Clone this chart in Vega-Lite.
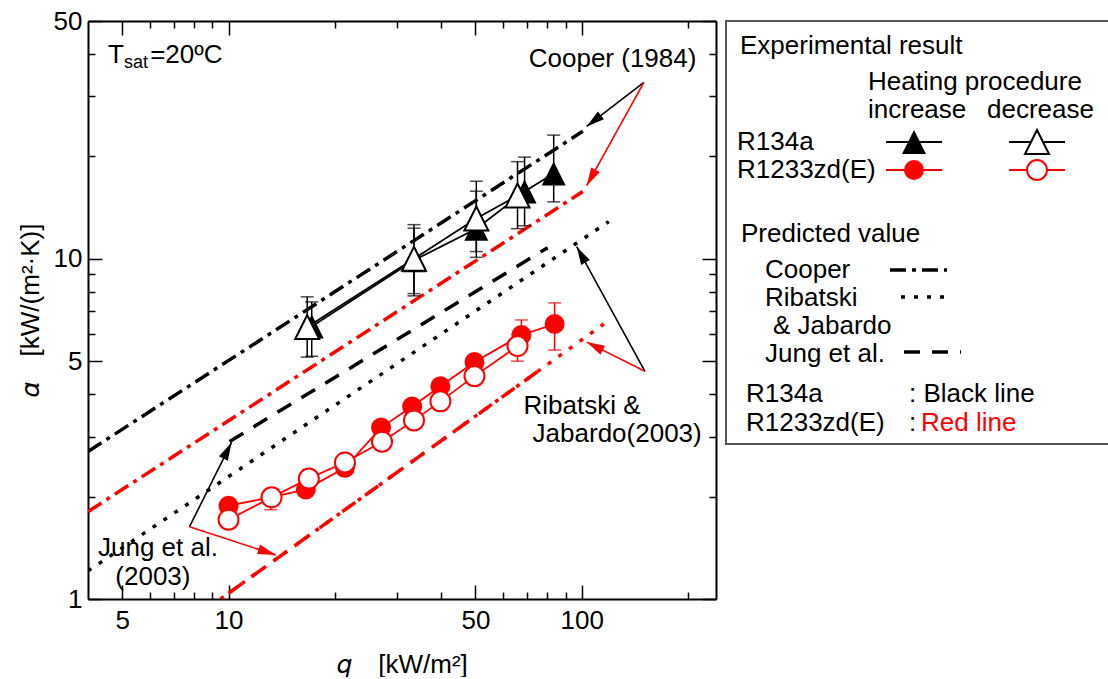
{
  "$schema": "https://vega.github.io/schema/vega-lite/v6.json",
  "background": "white",
  "padding": {"left": 17, "top": 8, "right": 0, "bottom": 0},
  "spacing": 10,
  "bounds": "flush",
  "config": {
    "font": "Liberation Sans",
    "view": {"stroke": null},
    "axis": {"labelFont": "Liberation Sans", "labelFontSize": 26, "labelColor": "black", "titleFont": "Liberation Sans", "titleFontSize": 26, "titleFontWeight": "normal", "titleColor": "black", "tickColor": "black", "tickWidth": 1.5, "domainColor": "black", "domainWidth": 2, "grid": false, "labelOverlap": false, "labelFlush": false},
    "text": {"font": "Liberation Sans", "fontSize": 26, "align": "left", "baseline": "middle"}
  },
  "datasets": {
    "exp": [
      {"fluid": "R134a", "proc": "increase", "q": 17.2, "a": 6.32, "lo": 5.17, "hi": 7.47},
      {"fluid": "R134a", "proc": "increase", "q": 33.5, "a": 9.9, "lo": 7.9, "hi": 12.3},
      {"fluid": "R134a", "proc": "increase", "q": 50.3, "a": 12.26, "lo": 10.1, "hi": 16.9},
      {"fluid": "R134a", "proc": "increase", "q": 68.9, "a": 15.76, "lo": 12.5, "hi": 19.9},
      {"fluid": "R134a", "proc": "increase", "q": 83.3, "a": 17.8, "lo": 14.7, "hi": 23.1},
      {"fluid": "R134a", "proc": "decrease", "q": 16.7, "a": 6.3, "lo": 5.14, "hi": 7.73},
      {"fluid": "R134a", "proc": "decrease", "q": 33.5, "a": 10.0, "lo": 7.78, "hi": 12.6},
      {"fluid": "R134a", "proc": "decrease", "q": 50.3, "a": 13.13, "lo": 10.5, "hi": 15.8},
      {"fluid": "R134a", "proc": "decrease", "q": 65.8, "a": 15.35, "lo": 12.26, "hi": 19.3},
      {"fluid": "R1233zd(E)", "proc": "increase", "q": 10.0, "a": 1.88, "lo": 1.82, "hi": 1.95},
      {"fluid": "R1233zd(E)", "proc": "increase", "q": 13.16, "a": 1.99, "lo": 1.83, "hi": 2.05},
      {"fluid": "R1233zd(E)", "proc": "increase", "q": 16.55, "a": 2.1, "lo": 2.03, "hi": 2.17},
      {"fluid": "R1233zd(E)", "proc": "increase", "q": 21.36, "a": 2.43, "lo": 2.35, "hi": 2.52},
      {"fluid": "R1233zd(E)", "proc": "increase", "q": 27.03, "a": 3.19, "lo": 3.08, "hi": 3.3},
      {"fluid": "R1233zd(E)", "proc": "increase", "q": 33.1, "a": 3.68, "lo": 3.55, "hi": 3.8},
      {"fluid": "R1233zd(E)", "proc": "increase", "q": 39.8, "a": 4.22, "lo": 4.08, "hi": 4.36},
      {"fluid": "R1233zd(E)", "proc": "increase", "q": 49.7, "a": 4.97, "lo": 4.8, "hi": 5.15},
      {"fluid": "R1233zd(E)", "proc": "increase", "q": 67.5, "a": 5.97, "lo": 5.5, "hi": 6.61},
      {"fluid": "R1233zd(E)", "proc": "increase", "q": 83.8, "a": 6.43, "lo": 5.39, "hi": 7.42},
      {"fluid": "R1233zd(E)", "proc": "decrease", "q": 10.0, "a": 1.71, "lo": 1.66, "hi": 1.77},
      {"fluid": "R1233zd(E)", "proc": "decrease", "q": 13.24, "a": 1.99, "lo": 1.93, "hi": 2.05},
      {"fluid": "R1233zd(E)", "proc": "decrease", "q": 16.88, "a": 2.26, "lo": 2.18, "hi": 2.4},
      {"fluid": "R1233zd(E)", "proc": "decrease", "q": 21.36, "a": 2.52, "lo": 2.44, "hi": 2.6},
      {"fluid": "R1233zd(E)", "proc": "decrease", "q": 27.2, "a": 2.9, "lo": 2.8, "hi": 3.0},
      {"fluid": "R1233zd(E)", "proc": "decrease", "q": 33.5, "a": 3.35, "lo": 3.22, "hi": 3.48},
      {"fluid": "R1233zd(E)", "proc": "decrease", "q": 39.8, "a": 3.81, "lo": 3.68, "hi": 3.94},
      {"fluid": "R1233zd(E)", "proc": "decrease", "q": 49.7, "a": 4.52, "lo": 4.37, "hi": 4.68},
      {"fluid": "R1233zd(E)", "proc": "decrease", "q": 65.8, "a": 5.54, "lo": 5.0, "hi": 6.0}
    ],
    "pred": [
      {"model": "Cooper", "fluid": "R134a", "q": 4.0, "a": 2.714},
      {"model": "Cooper", "fluid": "R134a", "q": 100.7, "a": 23.7},
      {"model": "Cooper", "fluid": "R1233zd(E)", "q": 4.0, "a": 1.806},
      {"model": "Cooper", "fluid": "R1233zd(E)", "q": 100.7, "a": 15.76},
      {"model": "Jung", "fluid": "R134a", "q": 10.07, "a": 2.904},
      {"model": "Jung", "fluid": "R134a", "q": 80.1, "a": 10.78},
      {"model": "Ribatski", "fluid": "R134a", "q": 4.0, "a": 1.21},
      {"model": "Ribatski", "fluid": "R134a", "q": 119.3, "a": 12.86},
      {"model": "Jung", "fluid": "R1233zd(E)", "q": 10.0, "a": 1.04},
      {"model": "Jung", "fluid": "R1233zd(E)", "q": 80.0, "a": 4.89},
      {"model": "Ribatski", "fluid": "R1233zd(E)", "q": 9.49, "a": 1.0},
      {"model": "Ribatski", "fluid": "R1233zd(E)", "q": 115.5, "a": 6.43}
    ],
    "arrows": [
      {"id": "cooper_black", "fluid": "R134a", "q": 150, "a": 33.0, "q2": 103.3, "a2": 24.5},
      {"id": "cooper_red", "fluid": "R1233zd(E)", "q": 150, "a": 33.0, "q2": 103.3, "a2": 16.4},
      {"id": "ribatski_black", "fluid": "R134a", "q": 151, "a": 4.67, "q2": 96.8, "a2": 10.85},
      {"id": "ribatski_red", "fluid": "R1233zd(E)", "q": 151, "a": 4.67, "q2": 103.3, "a2": 5.69},
      {"id": "jung_black", "fluid": "R134a", "q": 7.75, "a": 1.63, "q2": 10.2, "a2": 2.885},
      {"id": "jung_red", "fluid": "R1233zd(E)", "q": 7.75, "a": 1.63, "q2": 13.6, "a2": 1.348}
    ],
    "notes": [
      {"kind": "main", "label": "Cooper (1984)", "q": 70.8, "a": 38.6},
      {"kind": "main", "label": "Ribatski &", "q": 68.4, "a": 3.686},
      {"kind": "main", "label": "Jabardo(2003)", "q": 72.6, "a": 3.047},
      {"kind": "main", "label": "Jung et al.", "q": 4.27, "a": 1.414},
      {"kind": "main", "label": "(2003)", "q": 4.78, "a": 1.161},
      {"kind": "main", "label": "T", "q": 4.56, "a": 39.7},
      {"kind": "sub", "label": "sat", "q": 5.06, "a": 37.6},
      {"kind": "main", "label": "=20ºC", "q": 6.0, "a": 39.7}
    ],
    "legendText": [
      {"label": "Experimental result", "lx": 14, "ly": 25, "fluid": "none"},
      {"label": "Heating procedure", "lx": 142, "ly": 61, "fluid": "none"},
      {"label": "increase", "lx": 142, "ly": 89, "fluid": "none"},
      {"label": "decrease", "lx": 261, "ly": 89, "fluid": "none"},
      {"label": "R134a", "lx": 11, "ly": 121, "fluid": "none"},
      {"label": "R1233zd(E)", "lx": 11, "ly": 149, "fluid": "none"},
      {"label": "Predicted value", "lx": 15, "ly": 213, "fluid": "none"},
      {"label": "Cooper", "lx": 39, "ly": 249, "fluid": "none"},
      {"label": "Ribatski", "lx": 39, "ly": 277, "fluid": "none"},
      {"label": "& Jabardo", "lx": 47, "ly": 305, "fluid": "none"},
      {"label": "Jung et al.", "lx": 39, "ly": 333, "fluid": "none"},
      {"label": "R134a", "lx": 20, "ly": 373, "fluid": "none"},
      {"label": ": Black line", "lx": 183, "ly": 373, "fluid": "none"},
      {"label": "R1233zd(E)", "lx": 20, "ly": 402, "fluid": "none"},
      {"label": ":", "lx": 183, "ly": 402, "fluid": "none"},
      {"label": "Red line", "lx": 195, "ly": 402, "fluid": "R1233zd(E)"}
    ],
    "legendSym": [
      {"fluid": "R134a", "proc": "increase", "lx": 188, "lx1": 160, "lx2": 216, "ly": 121},
      {"fluid": "R134a", "proc": "decrease", "lx": 311, "lx1": 283, "lx2": 339, "ly": 121},
      {"fluid": "R1233zd(E)", "proc": "increase", "lx": 188, "lx1": 160, "lx2": 216, "ly": 149},
      {"fluid": "R1233zd(E)", "proc": "decrease", "lx": 311, "lx1": 283, "lx2": 339, "ly": 149}
    ],
    "legendPred": [
      {"model": "Cooper", "lx1": 164, "lx2": 221, "ly": 249},
      {"model": "Ribatski", "lx1": 175, "lx2": 221, "ly": 276},
      {"model": "Jung", "lx1": 178, "lx2": 235, "ly": 331}
    ]
  },
  "hconcat": [
    {
      "width": 628,
      "height": 578,
      "view": {"stroke": null},
      "resolve": {"axis": {"x": "independent", "y": "independent"}},
      "layer": [
        {
          "data": {"name": "pred"},
          "mark": {"type": "point", "opacity": 0},
          "encoding": {
            "x": {"field": "q", "type": "quantitative", "scale": {"type": "log", "domain": [4, 240], "nice": false},
              "axis": {"orient": "bottom", "values": [5, 10, 50, 100], "format": "d", "tickSize": -14, "labelPadding": 22, "domain": true, "title": "𝑞\u2002\u2002[kW/m²]", "titlePadding": 18}},
            "y": {"field": "a", "type": "quantitative", "scale": {"type": "log", "domain": [1, 50], "nice": false},
              "axis": {"orient": "left", "values": [1, 5, 10, 50], "format": "d", "tickSize": -14, "labelPadding": 20, "domain": true, "title": "𝛼\u2002\u2002[kW/(m²·K)]", "titlePadding": 10}}
          }
        },
        {
          "data": {"name": "pred"},
          "mark": {"type": "point", "opacity": 0},
          "encoding": {
            "x": {"field": "q", "type": "quantitative", "scale": {"type": "log", "domain": [4, 240], "nice": false},
              "axis": {"orient": "bottom", "values": [6, 7, 8, 9, 20, 30, 40, 60, 70, 80, 90, 200], "tickSize": -7, "labels": false, "domain": false, "title": null}},
            "y": {"field": "a", "type": "quantitative", "scale": {"type": "log", "domain": [1, 50], "nice": false},
              "axis": {"orient": "left", "values": [2, 3, 4, 6, 7, 8, 9, 20, 30, 40], "tickSize": -7, "labels": false, "domain": false, "title": null}}
          }
        },
        {
          "data": {"name": "pred"},
          "mark": {"type": "point", "opacity": 0},
          "encoding": {
            "x": {"field": "q", "type": "quantitative", "scale": {"type": "log", "domain": [4, 240], "nice": false},
              "axis": {"orient": "top", "values": [5, 10, 50, 100], "tickSize": -14, "labels": false, "domain": true, "title": null}},
            "y": {"field": "a", "type": "quantitative", "scale": {"type": "log", "domain": [1, 50], "nice": false},
              "axis": {"orient": "right", "values": [1, 5, 10, 50], "tickSize": -14, "labels": false, "domain": true, "title": null}}
          }
        },
        {
          "data": {"name": "pred"},
          "mark": {"type": "point", "opacity": 0},
          "encoding": {
            "x": {"field": "q", "type": "quantitative", "scale": {"type": "log", "domain": [4, 240], "nice": false},
              "axis": {"orient": "top", "values": [6, 7, 8, 9, 20, 30, 40, 60, 70, 80, 90, 200], "tickSize": -7, "labels": false, "domain": false, "title": null}},
            "y": {"field": "a", "type": "quantitative", "scale": {"type": "log", "domain": [1, 50], "nice": false},
              "axis": {"orient": "right", "values": [2, 3, 4, 6, 7, 8, 9, 20, 30, 40], "tickSize": -7, "labels": false, "domain": false, "title": null}}
          }
        },
        {
          "encoding": {
            "x": {"field": "q", "type": "quantitative", "scale": {"type": "log", "domain": [4, 240], "nice": false}, "axis": null},
            "y": {"field": "a", "type": "quantitative", "scale": {"type": "log", "domain": [1, 50], "nice": false}, "axis": null}
          },
          "layer": [
            {
              "data": {"name": "pred"},
              "mark": {"type": "line", "clip": true, "strokeWidth": 3.5, "strokeCap": "butt"},
              "encoding": {
                "color": {"field": "fluid", "type": "nominal", "scale": {"domain": ["R134a", "R1233zd(E)", "none"], "range": ["#000000", "#ff0000", "#000000"]}, "legend": null},
                "strokeDash": {"field": "model", "type": "nominal", "scale": {"domain": ["Cooper", "Ribatski", "Jung"], "range": [[16, 6, 4, 6], [4, 9], [16, 12]]}, "legend": null}
              }
            },
            {
              "data": {"name": "exp"},
              "mark": {"type": "line", "strokeWidth": 1.8},
              "encoding": {
                "color": {"field": "fluid", "type": "nominal", "scale": {"domain": ["R134a", "R1233zd(E)", "none"], "range": ["#000000", "#ff0000", "#000000"]}, "legend": null},
                "detail": {"field": "proc", "type": "nominal"}
              }
            },
            {
              "data": {"name": "exp"},
              "mark": {"type": "rule", "strokeWidth": 1.5},
              "encoding": {
                "y": {"field": "lo", "type": "quantitative", "scale": {"type": "log", "domain": [1, 50], "nice": false}, "axis": null},
                "y2": {"field": "hi"},
                "color": {"field": "fluid", "type": "nominal", "scale": {"domain": ["R134a", "R1233zd(E)", "none"], "range": ["#000000", "#ff0000", "#000000"]}, "legend": null}
              }
            },
            {
              "data": {"name": "exp"},
              "mark": {"type": "tick", "orient": "horizontal", "size": 13, "thickness": 1.5},
              "encoding": {
                "y": {"field": "lo", "type": "quantitative", "scale": {"type": "log", "domain": [1, 50], "nice": false}, "axis": null},
                "color": {"field": "fluid", "type": "nominal", "scale": {"domain": ["R134a", "R1233zd(E)", "none"], "range": ["#000000", "#ff0000", "#000000"]}, "legend": null}
              }
            },
            {
              "data": {"name": "exp"},
              "mark": {"type": "tick", "orient": "horizontal", "size": 13, "thickness": 1.5},
              "encoding": {
                "y": {"field": "hi", "type": "quantitative", "scale": {"type": "log", "domain": [1, 50], "nice": false}, "axis": null},
                "color": {"field": "fluid", "type": "nominal", "scale": {"domain": ["R134a", "R1233zd(E)", "none"], "range": ["#000000", "#ff0000", "#000000"]}, "legend": null}
              }
            },
            {
              "data": {"name": "exp"},
              "transform": [{"filter": "datum.proc === 'increase'"}],
              "mark": {"type": "point", "filled": true, "size": 400, "opacity": 1},
              "encoding": {
                "shape": {"field": "fluid", "type": "nominal", "scale": {"domain": ["R134a", "R1233zd(E)"], "range": ["M0,-1.2L1.2,1.2L-1.2,1.2Z", "circle"]}, "legend": null},
                "color": {"field": "fluid", "type": "nominal", "scale": {"domain": ["R134a", "R1233zd(E)", "none"], "range": ["#000000", "#ff0000", "#000000"]}, "legend": null}
              }
            },
            {
              "data": {"name": "exp"},
              "transform": [{"filter": "datum.proc === 'decrease'"}],
              "mark": {"type": "point", "filled": false, "fill": "white", "fillOpacity": 1, "size": 400, "strokeWidth": 2, "opacity": 1},
              "encoding": {
                "shape": {"field": "fluid", "type": "nominal", "scale": {"domain": ["R134a", "R1233zd(E)"], "range": ["M0,-1.2L1.2,1.2L-1.2,1.2Z", "circle"]}, "legend": null},
                "color": {"field": "fluid", "type": "nominal", "scale": {"domain": ["R134a", "R1233zd(E)", "none"], "range": ["#000000", "#ff0000", "#000000"]}, "legend": null}
              }
            },
            {
              "data": {"name": "arrows"},
              "mark": {"type": "rule", "strokeWidth": 1.6},
              "encoding": {
                "x2": {"field": "q2"},
                "y2": {"field": "a2"},
                "color": {"field": "fluid", "type": "nominal", "scale": {"domain": ["R134a", "R1233zd(E)", "none"], "range": ["#000000", "#ff0000", "#000000"]}, "legend": null}
              }
            },
            {
              "data": {"name": "arrows"},
              "transform": [{"filter": "datum.id === 'cooper_black'"}],
              "mark": {"type": "point", "filled": true, "shape": "M0,0L0.55,2L-0.55,2Z", "size": 324, "opacity": 1, "angle": 232, "color": "#000000"},
              "encoding": {
                "x": {"field": "q2", "type": "quantitative", "scale": {"type": "log", "domain": [4, 240], "nice": false}, "axis": null},
                "y": {"field": "a2", "type": "quantitative", "scale": {"type": "log", "domain": [1, 50], "nice": false}, "axis": null}
              }
            },
            {
              "data": {"name": "arrows"},
              "transform": [{"filter": "datum.id === 'cooper_red'"}],
              "mark": {"type": "point", "filled": true, "shape": "M0,0L0.55,2L-0.55,2Z", "size": 324, "opacity": 1, "angle": 209, "color": "#ff0000"},
              "encoding": {
                "x": {"field": "q2", "type": "quantitative", "scale": {"type": "log", "domain": [4, 240], "nice": false}, "axis": null},
                "y": {"field": "a2", "type": "quantitative", "scale": {"type": "log", "domain": [1, 50], "nice": false}, "axis": null}
              }
            },
            {
              "data": {"name": "arrows"},
              "transform": [{"filter": "datum.id === 'ribatski_black'"}],
              "mark": {"type": "point", "filled": true, "shape": "M0,0L0.55,2L-0.55,2Z", "size": 324, "opacity": 1, "angle": 331, "color": "#000000"},
              "encoding": {
                "x": {"field": "q2", "type": "quantitative", "scale": {"type": "log", "domain": [4, 240], "nice": false}, "axis": null},
                "y": {"field": "a2", "type": "quantitative", "scale": {"type": "log", "domain": [1, 50], "nice": false}, "axis": null}
              }
            },
            {
              "data": {"name": "arrows"},
              "transform": [{"filter": "datum.id === 'ribatski_red'"}],
              "mark": {"type": "point", "filled": true, "shape": "M0,0L0.55,2L-0.55,2Z", "size": 324, "opacity": 1, "angle": 297, "color": "#ff0000"},
              "encoding": {
                "x": {"field": "q2", "type": "quantitative", "scale": {"type": "log", "domain": [4, 240], "nice": false}, "axis": null},
                "y": {"field": "a2", "type": "quantitative", "scale": {"type": "log", "domain": [1, 50], "nice": false}, "axis": null}
              }
            },
            {
              "data": {"name": "arrows"},
              "transform": [{"filter": "datum.id === 'jung_black'"}],
              "mark": {"type": "point", "filled": true, "shape": "M0,0L0.55,2L-0.55,2Z", "size": 324, "opacity": 1, "angle": 27, "color": "#000000"},
              "encoding": {
                "x": {"field": "q2", "type": "quantitative", "scale": {"type": "log", "domain": [4, 240], "nice": false}, "axis": null},
                "y": {"field": "a2", "type": "quantitative", "scale": {"type": "log", "domain": [1, 50], "nice": false}, "axis": null}
              }
            },
            {
              "data": {"name": "arrows"},
              "transform": [{"filter": "datum.id === 'jung_red'"}],
              "mark": {"type": "point", "filled": true, "shape": "M0,0L0.55,2L-0.55,2Z", "size": 324, "opacity": 1, "angle": 108, "color": "#ff0000"},
              "encoding": {
                "x": {"field": "q2", "type": "quantitative", "scale": {"type": "log", "domain": [4, 240], "nice": false}, "axis": null},
                "y": {"field": "a2", "type": "quantitative", "scale": {"type": "log", "domain": [1, 50], "nice": false}, "axis": null}
              }
            },
            {
              "data": {"name": "notes"},
              "transform": [{"filter": "datum.kind === 'main'"}],
              "mark": {"type": "text", "fontSize": 26, "align": "left", "baseline": "middle", "color": "black"},
              "encoding": {"text": {"field": "label"}}
            },
            {
              "data": {"name": "notes"},
              "transform": [{"filter": "datum.kind === 'sub'"}],
              "mark": {"type": "text", "fontSize": 18, "align": "left", "baseline": "middle", "color": "black"},
              "encoding": {"text": {"field": "label"}}
            }
          ]
        }
      ]
    },
    {
      "width": 400,
      "height": 423,
      "view": {"stroke": "#555555", "strokeWidth": 2},
      "encoding": {
        "x": {"field": "lx", "type": "quantitative", "scale": {"domain": [0, 400], "nice": false, "zero": false}, "axis": null},
        "y": {"field": "ly", "type": "quantitative", "scale": {"domain": [0, 423], "nice": false, "zero": false, "reverse": true}, "axis": null}
      },
      "layer": [
        {
          "data": {"name": "legendText"},
          "mark": {"type": "text", "fontSize": 26, "align": "left", "baseline": "middle"},
          "encoding": {
            "text": {"field": "label"},
            "color": {"field": "fluid", "type": "nominal", "scale": {"domain": ["R134a", "R1233zd(E)", "none"], "range": ["#000000", "#ff0000", "#000000"]}, "legend": null}
          }
        },
        {
          "data": {"name": "legendSym"},
          "mark": {"type": "rule", "strokeWidth": 1.8},
          "encoding": {
            "x": {"field": "lx1", "type": "quantitative", "scale": {"domain": [0, 400], "nice": false, "zero": false}, "axis": null},
            "x2": {"field": "lx2"},
            "color": {"field": "fluid", "type": "nominal", "scale": {"domain": ["R134a", "R1233zd(E)", "none"], "range": ["#000000", "#ff0000", "#000000"]}, "legend": null}
          }
        },
        {
          "data": {"name": "legendSym"},
          "transform": [{"filter": "datum.proc === 'increase'"}],
          "mark": {"type": "point", "filled": true, "size": 400, "opacity": 1},
          "encoding": {
            "shape": {"field": "fluid", "type": "nominal", "scale": {"domain": ["R134a", "R1233zd(E)"], "range": ["M0,-1.2L1.2,1.2L-1.2,1.2Z", "circle"]}, "legend": null},
            "color": {"field": "fluid", "type": "nominal", "scale": {"domain": ["R134a", "R1233zd(E)", "none"], "range": ["#000000", "#ff0000", "#000000"]}, "legend": null}
          }
        },
        {
          "data": {"name": "legendSym"},
          "transform": [{"filter": "datum.proc === 'decrease'"}],
          "mark": {"type": "point", "filled": false, "fill": "white", "fillOpacity": 1, "size": 400, "strokeWidth": 2, "opacity": 1},
          "encoding": {
            "shape": {"field": "fluid", "type": "nominal", "scale": {"domain": ["R134a", "R1233zd(E)"], "range": ["M0,-1.2L1.2,1.2L-1.2,1.2Z", "circle"]}, "legend": null},
            "color": {"field": "fluid", "type": "nominal", "scale": {"domain": ["R134a", "R1233zd(E)", "none"], "range": ["#000000", "#ff0000", "#000000"]}, "legend": null}
          }
        },
        {
          "data": {"name": "legendPred"},
          "mark": {"type": "rule", "strokeWidth": 3.5, "strokeCap": "butt", "color": "black"},
          "encoding": {
            "x": {"field": "lx1", "type": "quantitative", "scale": {"domain": [0, 400], "nice": false, "zero": false}, "axis": null},
            "x2": {"field": "lx2"},
            "strokeDash": {"field": "model", "type": "nominal", "scale": {"domain": ["Cooper", "Ribatski", "Jung"], "range": [[16, 6, 4, 6], [4, 9], [16, 12]]}, "legend": null}
          }
        }
      ]
    }
  ]
}
